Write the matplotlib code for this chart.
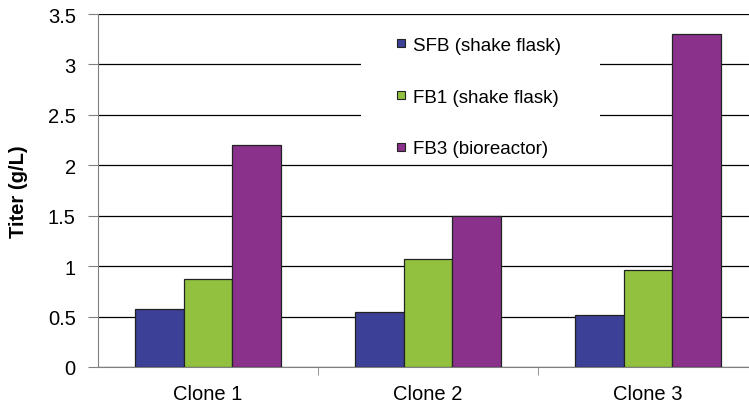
import matplotlib.pyplot as plt
from matplotlib.lines import Line2D
from matplotlib.patches import Rectangle
import numpy as np

plt.rcParams['font.family'] = ['Liberation Sans', 'DejaVu Sans']

clones = ["Clone 1", "Clone 2", "Clone 3"]
series = ["SFB (shake flask)", "FB1 (shake flask)", "FB3 (bioreactor)"]
sfb = [0.58, 0.55, 0.52]
fb1 = [0.87, 1.07, 0.96]
fb3 = [2.2, 1.5, 3.3]
colors = ["#3C4096", "#92C140", "#8A318C"]
yticks = [0, 0.5, 1, 1.5, 2, 2.5, 3, 3.5]
ytick_labels = ["0", "0.5", "1", "1.5", "2", "2.5", "3", "3.5"]

fig = plt.figure(figsize=(7.49, 4.14), dpi=100)
ax = fig.add_axes([98/749, 46/414, 660/749, 353/414])

x = np.arange(len(clones))
w = 0.222
for i, (vals, col) in enumerate(zip([sfb, fb1, fb3], colors)):
    ax.bar(x + (i - 1) * w, vals, width=w, color=col, edgecolor="#222222",
           linewidth=0.9, zorder=3)

ax.set_xlim(-0.5, 2.5)
ax.set_ylim(0, 3.5)
ax.set_yticks(yticks)
ax.set_yticklabels(ytick_labels, fontsize=14.5)
ax.yaxis.grid(True, color="black", linewidth=0.9, zorder=0)
ax.set_axisbelow(True)

ax.set_xticks(x)
ax.set_xticklabels(clones, fontsize=14.5)
ax.tick_params(axis="x", which="major", length=0, pad=12)
ax.set_xticks([0.5, 1.5], minor=True)
ax.tick_params(axis="x", which="minor", length=6, color="#808080")
ax.tick_params(axis="y", length=7, color="#808080", pad=9)

for s in ["top", "right"]:
    ax.spines[s].set_visible(False)
ax.spines["left"].set_color("#808080")
ax.spines["bottom"].set_color("#808080")

ax.set_ylabel("Titer (g/L)", fontsize=14.5, fontweight="bold", labelpad=14)

# white legend background covering the gridlines
ax.add_patch(Rectangle((0.398, 0.584), 0.362, 0.402, transform=ax.transAxes,
                       facecolor="white", edgecolor="none", zorder=2))

handles = [Line2D([0], [0], marker="s", linestyle="none", markersize=6,
                  markerfacecolor=c, markeredgecolor="#222222", markeredgewidth=0.8)
           for c in colors]
leg = ax.legend(handles, series, loc="center left",
                bbox_to_anchor=(0.449, 0.765), fontsize=13.5,
                frameon=False, labelspacing=1.85, handlelength=0.7,
                handletextpad=0.3, borderpad=0, borderaxespad=0)
leg.set_zorder(5)

fig.savefig("out.png", dpi=100)
